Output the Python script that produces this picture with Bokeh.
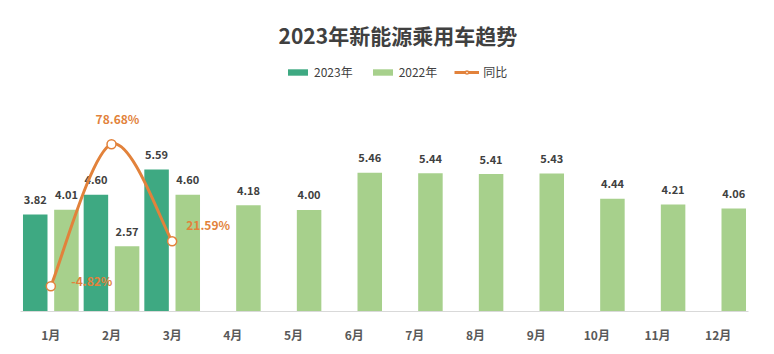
import numpy as np
from bokeh.plotting import figure
from bokeh.models import Range1d, ColumnDataSource, Legend, LegendItem, Label, FixedTicker
from bokeh.core.properties import value
from bokeh.embed import file_html
from bokeh.resources import INLINE

# ---- data ----
months = ["1月", "2月", "3月", "4月", "5月", "6月", "7月", "8月", "9月", "10月", "11月", "12月"]
sales_2023 = [3.82, 4.60, 5.59]
sales_2022 = [4.01, 2.57, 4.60, 4.18, 4.00, 5.46, 5.44, 5.41, 5.43, 4.44, 4.21, 4.06]
yoy_pct = [-4.82, 78.68, 21.59]
title_text = "2023年新能源乘用车趋势"

# ---- style ----
FONT = value("Noto Sans CJK SC")
C23 = "#3EA982"
C22 = "#A7D08C"
CYOY = "#E2823B"
OFF = 0.257
BW = 0.404

p = figure(width=774, height=354, output_backend="svg", toolbar_location=None,
           x_range=Range1d(0, 12), y_range=Range1d(0, 12.244),
           y_axis_location=None, min_border_left=20, min_border_right=26,
           min_border_top=0, min_border_bottom=43, tools="")
p.extra_y_ranges = {"pct": Range1d(-19.70, 163.18)}
p.outline_line_color = None
p.grid.visible = False
p.background_fill_color = "white"
p.border_fill_color = "white"

centers = np.arange(len(months)) + 0.5
x23 = centers[:len(sales_2023)] - OFF
x22 = centers + OFF

src23 = ColumnDataSource(dict(x=x23, top=sales_2023, lab=[f"{v:.2f}" for v in sales_2023]))
src22 = ColumnDataSource(dict(x=x22, top=sales_2022, lab=[f"{v:.2f}" for v in sales_2022]))

r23 = p.vbar(x="x", top="top", width=BW, source=src23, fill_color=C23, line_color=None)
r22 = p.vbar(x="x", top="top", width=BW, source=src22, fill_color=C22, line_color=None)

for src in (src23, src22):
    p.text(x="x", y="top", text="lab", source=src, text_font=FONT, text_font_size="11px",
           text_font_style="bold", text_color="#404040", text_align="center",
           text_baseline="middle", y_offset=-15)

# smoothed yoy curve (cubic Bezier through the data points)
yx = list(centers[:len(yoy_pct)])
yy = list(yoy_pct)
n = len(yx)
x0s, y0s, x1s, y1s, cx0s, cy0s, cx1s, cy1s = [], [], [], [], [], [], [], []
for i in range(n - 1):
    im1 = max(i - 1, 0)
    ip2 = min(i + 2, n - 1)
    x0s.append(yx[i]); y0s.append(yy[i])
    x1s.append(yx[i + 1]); y1s.append(yy[i + 1])
    cx0s.append(yx[i] + (yx[i + 1] - yx[im1]) / 6)
    cy0s.append(yy[i] + (yy[i + 1] - yy[im1]) / 6)
    cx1s.append(yx[i + 1] - (yx[ip2] - yx[i]) / 6)
    cy1s.append(yy[i + 1] - (yy[ip2] - yy[i]) / 6)
p.bezier(x0=x0s, y0=y0s, x1=x1s, y1=y1s, cx0=cx0s, cy0=cy0s, cx1=cx1s, cy1=cy1s,
         line_color=CYOY, line_width=3, y_range_name="pct")
# legend-only line (no drawable data)
rline = p.line(x=[float("nan")], y=[float("nan")], line_color=CYOY, line_width=3,
               y_range_name="pct")
rpts = p.scatter(x=yx, y=yy, marker="circle", size=9, fill_color="white",
                 line_color=CYOY, line_width=1.5, y_range_name="pct")

pct_dx = [41, 6, 36]
pct_dy = [-6, -26, -17]
p.text(x=yx, y=yy, text=[f"{v:.2f}%" for v in yoy_pct], x_offset=pct_dx, y_offset=pct_dy,
       text_font=FONT, text_font_size="12px", text_font_style="bold", text_color=CYOY,
       text_align="center", text_baseline="middle", y_range_name="pct")

# axis
ax = p.xaxis[0]
ax.ticker = FixedTicker(ticks=list(centers))
ax.major_label_overrides = {float(c): m for c, m in zip(centers, months)}
ax.major_tick_line_color = None
ax.minor_tick_line_color = None
ax.axis_line_color = "#D9D9D9"
ax.axis_line_width = 1
ax.major_label_text_font = "Noto Sans CJK SC"
ax.major_label_text_font_size = "12px"
ax.major_label_text_font_style = "bold"
ax.major_label_text_color = "#595959"
ax.major_label_standoff = 8

# title
p.add_layout(Label(x=6.22, y=10.87, text=title_text, text_font="Noto Sans CJK SC",
                   text_font_size="21px", text_font_style="bold", text_color="#404040",
                   text_align="center", text_baseline="middle"))

legend = Legend(items=[LegendItem(label="2023年", renderers=[r23]),
                       LegendItem(label="2022年", renderers=[r22]),
                       LegendItem(label="同比", renderers=[rline, rpts])],
                orientation="horizontal", location=(265, 231),
                glyph_width=25, glyph_height=8, label_height=14, label_standoff=4,
                spacing=17, padding=0, margin=0,
                label_text_font="Noto Sans CJK SC", label_text_font_size="12px",
                label_text_color="#404040",
                background_fill_alpha=0, border_line_alpha=0)
p.add_layout(legend)

open("out.html", "w").write(file_html(p, INLINE))
